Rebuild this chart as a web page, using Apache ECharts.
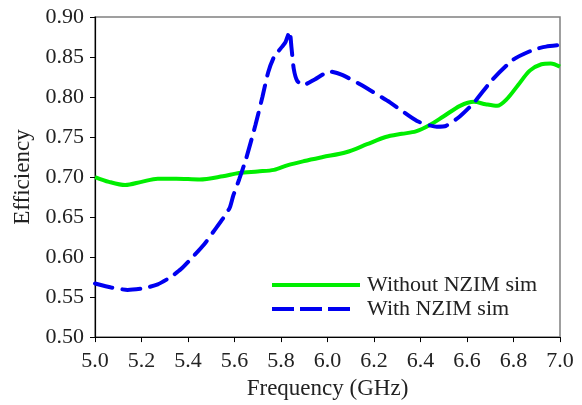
<!DOCTYPE html>
<html>
<head>
<meta charset="utf-8">
<script src="https://cdn.jsdelivr.net/npm/echarts@6/dist/echarts.min.js"></script>
<style>html,body{margin:0;padding:0;background:#fff}#c{width:582px;height:405px}</style>
</head>
<body>
<div id="c"></div>
<script>
var seriesNames = ['Without NZIM sim', 'With NZIM sim'];
var freqWithout = [5.00,5.06,5.13,5.20,5.27,5.35,5.45,5.55,5.62,5.70,5.77,5.83,5.90,5.98,6.08,6.17,6.25,6.32,6.38,6.44,6.50,6.57,6.63,6.68,6.73,6.77,6.82,6.87,6.92,6.96,7.00];
var effWithout  = [0.700,0.694,0.690,0.694,0.698,0.698,0.697,0.701,0.705,0.707,0.709,0.715,0.720,0.725,0.731,0.741,0.750,0.754,0.757,0.765,0.776,0.789,0.794,0.791,0.789,0.797,0.815,0.833,0.841,0.842,0.838];
var freqWith = [5.00,5.07,5.14,5.21,5.27,5.32,5.37,5.42,5.47,5.51,5.55,5.58,5.595,5.62,5.65,5.69,5.72,5.745,5.77,5.805,5.82,5.837,5.845,5.855,5.87,5.895,5.945,6.01,6.06,6.14,6.27,6.385,6.47,6.51,6.57,6.63,6.71,6.80,6.885,6.94,7.00];
var effWith  = [0.567,0.562,0.559,0.561,0.566,0.574,0.585,0.600,0.616,0.632,0.648,0.662,0.677,0.697,0.723,0.765,0.800,0.831,0.850,0.863,0.869,0.882,0.862,0.835,0.820,0.815,0.822,0.832,0.828,0.816,0.793,0.770,0.763,0.764,0.776,0.793,0.822,0.847,0.859,0.863,0.865];

function pairs(xs, ys){ return xs.map(function(x,i){ return [x, ys[i]]; }); }

var font = '"Liberation Serif", "DejaVu Serif", serif';
var green = '#00ee00', blue = '#0000f0';
var chart = echarts.init(document.getElementById('c'));
chart.setOption({
  animation: false,
  backgroundColor: '#fff',
  grid: { left: 95, right: 22, top: 17, bottom: 65, show: true, borderColor: '#808080', borderWidth: 1.5 },
  legend: {
    orient: 'vertical', left: 267, top: 269, itemGap: 2, itemWidth: 88, itemHeight: 4,
    textStyle: { fontFamily: font, fontSize: 22, color: '#222', padding: [0, 0, 0, 2] },
    data: [
      { name: seriesNames[0], icon: 'path://M0,0H88V4H0Z', itemStyle: { color: green } },
      { name: seriesNames[1], icon: 'path://M0,0H22V4H0Z M28,0H50V4H28Z M56,0H78V4H56Z M88,4', itemStyle: { color: blue } }
    ]
  },
  xAxis: {
    type: 'value', min: 5, max: 7, interval: 0.2,
    name: 'Frequency (GHz)', nameLocation: 'middle', nameGap: 36,
    nameTextStyle: { fontFamily: font, fontSize: 23, color: '#222' },
    axisLine: { show: true, lineStyle: { color: '#000', width: 1.2 } },
    axisTick: { show: true, length: 5, inside: false, lineStyle: { color: '#000' } },
    axisLabel: { fontFamily: font, fontSize: 22, color: '#222', margin: 13, formatter: function(v){ return v.toFixed(1); } },
    splitLine: { show: false }
  },
  yAxis: {
    type: 'value', min: 0.5, max: 0.9, interval: 0.05,
    name: 'Efficiency', nameLocation: 'middle', nameGap: 55, nameRotate: 90,
    nameTextStyle: { fontFamily: font, fontSize: 23, color: '#222' },
    axisLine: { show: true, lineStyle: { color: '#000', width: 1.2 } },
    axisTick: { show: true, length: 5, inside: false, lineStyle: { color: '#000' } },
    axisLabel: { fontFamily: font, fontSize: 22, color: '#222', margin: 11, formatter: function(v){ return v.toFixed(2); } },
    splitLine: { show: false }
  },
  series: [
    { name: seriesNames[0], type: 'line', data: pairs(freqWithout, effWithout), smooth: 0.3, showSymbol: false, symbol: 'none',
      lineStyle: { color: green, width: 4 }, itemStyle: { color: green } },
    { name: seriesNames[1], type: 'line', data: pairs(freqWith, effWith), smooth: 0.2, showSymbol: false, symbol: 'none',
      lineStyle: { color: blue, width: 4, type: [18, 10], cap: 'round' }, itemStyle: { color: blue } }
  ]
});
</script>
</body>
</html>
